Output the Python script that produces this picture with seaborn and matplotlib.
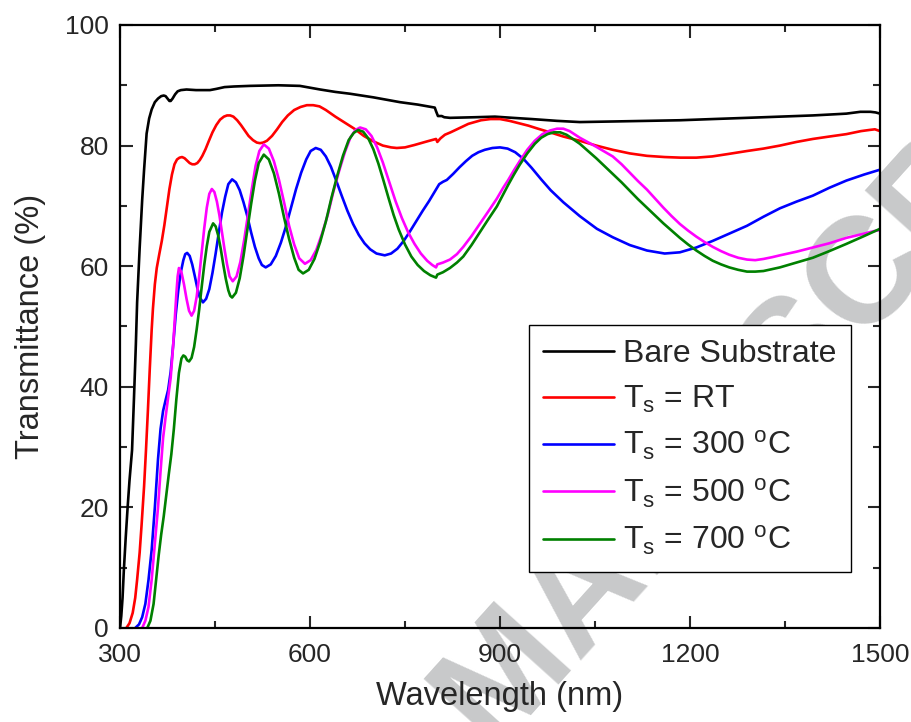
import numpy as np
import pandas as pd
import matplotlib
matplotlib.use("Agg")
import matplotlib.pyplot as plt
from matplotlib.ticker import MultipleLocator
import seaborn as sns

# ---- data (wavelength nm, transmittance %) ----
bare_nm = [300, 302, 304, 306, 309, 312, 315, 319, 322, 325, 327, 331, 335, 338, 342, 346, 350, 355, 360,
           365, 369, 372, 375, 378, 380, 383, 387, 391, 396, 405, 420, 442, 452, 465, 480, 505, 550, 584,
           600, 616, 640, 663, 700, 742, 770, 797, 799, 802, 808, 812, 821, 860, 892, 920, 950, 990, 1026,
           1080, 1132, 1184, 1236, 1290, 1342, 1394, 1430, 1447, 1469, 1485, 1493, 1500]
bare_T = [0, 2, 5, 9.5, 15, 20, 24.5, 29.5, 38, 47, 54, 63, 71, 76, 82, 84.5, 86, 87.2, 87.8,
          88.2, 88.3, 88.2, 87.8, 87.4, 87.4, 87.8, 88.5, 89.0, 89.2, 89.3, 89.2, 89.2, 89.4, 89.7, 89.8, 89.9, 90, 89.9,
          89.6, 89.3, 88.9, 88.6, 88, 87.2, 86.8, 86.3, 85.7, 84.9, 84.9, 84.7, 84.6, 84.7, 84.8, 84.6, 84.4, 84.1, 83.9,
          84.0, 84.1, 84.2, 84.4, 84.6, 84.8, 85.0, 85.2, 85.3, 85.6, 85.6, 85.5, 85.3]

rt_nm = [310, 315, 320, 324, 327, 331, 334, 338, 341, 344, 347, 350, 352, 355, 358, 362, 366, 370, 374,
         378, 382, 386, 390, 394, 398, 402, 406, 410, 414, 418, 422, 426, 430, 435, 440, 446, 452, 458,
         464, 469, 474, 479, 485, 491, 497, 503, 510, 516, 521, 526, 532, 540, 548, 556, 565, 575, 585,
         595, 605, 615, 625, 640, 655, 670, 685, 700, 715, 728, 737, 750, 765, 785, 799, 801, 806, 813,
         822, 830, 840, 850, 860, 870, 885, 900, 915, 930, 945, 960, 979, 1000, 1026, 1052, 1078, 1105,
         1132, 1160, 1185, 1210, 1235, 1260, 1290, 1316, 1342, 1368, 1394, 1420, 1447, 1470, 1484, 1492, 1500]
rt_T = [0, 0.8, 2.5, 5, 8, 12.5, 17, 23.5, 29.5, 36, 43, 49.5, 53, 57, 59.7, 62, 64.2, 66.8, 69.8,
        72.8, 75.2, 76.9, 77.7, 78.0, 78.1, 77.9, 77.5, 77.1, 76.9, 76.9, 77.1, 77.6, 78.3, 79.4, 80.7, 82.2, 83.4, 84.3,
        84.8, 85.0, 85.0, 84.8, 84.2, 83.4, 82.5, 81.6, 80.9, 80.5, 80.4, 80.5, 80.8, 81.6, 82.7, 83.9, 85.0, 85.9, 86.4,
        86.7, 86.7, 86.5, 85.9, 84.8, 83.8, 82.8, 81.6, 80.7, 80.0, 79.7, 79.6, 79.7, 80.1, 80.7, 81.1, 80.6, 81.2, 81.8,
        82.2, 82.6, 83.1, 83.6, 83.9, 84.2, 84.4, 84.4, 84.1, 83.7, 83.3, 82.8, 82.2, 81.5, 80.8, 80.0, 79.3, 78.7,
        78.3, 78.1, 78.0, 78.0, 78.2, 78.6, 79.1, 79.5, 80.0, 80.6, 81.1, 81.5, 81.9, 82.4, 82.6, 82.7, 82.4]

t300_nm = [324, 330, 335, 340, 345, 350, 355, 360, 364, 368, 372, 376, 380, 384, 388, 392, 396, 400, 403,
           406, 410, 414, 418, 422, 426, 431, 436, 441, 446, 451, 456, 461, 466, 471, 477, 483, 489, 495,
           501, 507, 513, 519, 524, 530, 538, 546, 554, 562, 570, 578, 586, 594, 601, 609, 617, 625, 633,
           641, 650, 659, 668, 677, 686, 695, 705, 718, 728, 738, 748, 758, 768, 778, 788, 796, 800, 804,
           810, 816, 826, 836, 846, 856, 866, 876, 888, 900, 912, 924, 937, 950, 965, 980, 1000, 1026,
           1053, 1078, 1105, 1132, 1160, 1184, 1210, 1236, 1262, 1290, 1316, 1342, 1368, 1394, 1420, 1447,
           1475, 1500]
t300_T = [0, 0.6, 1.8, 4, 8, 13, 20, 28, 33, 36, 37.8, 39.5, 42.5, 47, 52, 56, 59, 61, 62,
          62.2, 61.7, 60.3, 58.4, 56.4, 54.8, 54, 54.6, 56.2, 58.9, 62.1, 65.6, 68.9, 71.5, 73.6, 74.4, 73.9, 72.6, 70.6,
          68.3, 65.6, 63.2, 61.3, 60.2, 59.8, 60.3, 61.7, 63.9, 66.6, 69.7, 72.8, 75.5, 77.7, 79.1, 79.6, 79.3, 78.2, 76.5,
          74.3, 71.7, 69.2, 67, 65.2, 63.8, 62.8, 62.1, 61.8, 62.1, 62.9, 64.2, 65.8, 67.5, 69.2, 70.8, 72.2, 72.9, 73.6,
          74.0, 74.3, 75.3, 76.4, 77.4, 78.3, 78.9, 79.3, 79.6, 79.7, 79.5, 78.9, 77.8, 76.3, 74.4, 72.6, 70.6, 68.3,
          66.2, 64.8, 63.5, 62.6, 62.1, 62.3, 63.1, 64.2, 65.4, 66.7, 68.2, 69.6, 70.7, 71.7, 73, 74.2,
          75.2, 76]

t500_nm = [335, 340, 345, 350, 355, 360, 364, 368, 372, 376, 380, 384, 387, 389, 391, 393, 397, 401, 405,
           409, 413, 417, 421, 425, 429, 433, 437, 441, 445, 449, 453, 457, 461, 465, 469, 473, 478, 484,
           490, 496, 502, 508, 514, 520, 527, 535, 543, 551, 559, 567, 575, 583, 592, 601, 610, 619, 628,
           637, 646, 655, 664, 672, 679, 688, 697, 706, 715, 725, 735, 745, 755, 765, 775, 785, 793, 799,
           801, 810, 821, 832, 842, 855, 868, 881, 895, 905, 913, 922, 931, 943, 955, 967, 979, 990, 1000,
           1010, 1026, 1040, 1052, 1065, 1078, 1092, 1105, 1118, 1132, 1145, 1158, 1171, 1184, 1197, 1210,
           1223, 1236, 1249, 1262, 1276, 1290, 1303, 1316, 1330, 1342, 1368, 1394, 1420, 1447, 1475, 1490, 1500]
t500_T = [0, 1.2, 3.5, 8, 14, 20, 26, 31.5, 35, 38.3, 41.5, 47, 52, 55.5, 58.3, 59.7, 59.0, 57.0, 54.6,
          52.6, 51.8, 52.6, 54.9, 58.3, 62.3, 66.3, 69.7, 72.0, 72.8, 72.3, 70.7, 68.4, 65.6, 62.8, 60.3, 58.3, 57.5, 58.3,
          60.7, 64.3, 68.5, 72.7, 76.6, 79.1, 80.2, 79.5, 77.4, 74.3, 70.6, 66.7, 63.6, 61.3, 60.4, 61, 62.7, 65.4, 68.5,
          72.4, 75.8, 78.9, 81.4, 82.6, 83, 82.7, 81.6, 79.7, 77.2, 74, 70.8, 68, 65.6, 63.7, 62.1, 60.9, 60.2, 59.8,
          60.3, 60.6, 61.1, 62, 63.2, 65, 67, 69, 71.2, 73, 74.3, 75.9, 77.4, 79.3, 80.8, 81.9, 82.5, 82.8, 82.8,
          82.4, 81.3, 80.5, 79.8, 79.0, 78.2, 76.9, 75.5, 74.1, 72.7, 71.2, 69.7, 68.3, 67, 65.9, 64.9,
          64, 63.2, 62.5, 61.9, 61.4, 61.1, 61.0, 61.2, 61.5, 61.8, 62.4, 63.1, 63.8, 64.7, 65.4, 65.8, 66]

t700_nm = [343, 348, 353, 357, 361, 365, 369, 373, 377, 381, 385, 389, 393, 397, 400, 403, 406, 409, 413,
           417, 421, 425, 429, 433, 437, 441, 447, 451, 455, 459, 463, 467, 471, 474, 477, 483, 489, 495,
           501, 507, 513, 519, 527, 535, 543, 551, 559, 567, 575, 582, 589, 598, 607, 616, 625, 634, 643,
           652, 661, 669, 676, 684, 692, 700, 708, 716, 724, 732, 740, 750, 760, 770, 780, 790, 799, 801,
           810, 821, 832, 842, 855, 868, 881, 895, 904, 913, 922, 931, 943, 955, 965, 975, 985, 995, 1005,
           1015, 1026, 1039, 1052, 1065, 1078, 1092, 1105, 1118, 1132, 1145, 1158, 1171, 1184, 1197, 1210,
           1223, 1236, 1249, 1262, 1276, 1290, 1303, 1316, 1329, 1342, 1368, 1394, 1420, 1447, 1475, 1500]
t700_T = [0, 1.2, 4, 8, 12, 15.5, 18.5, 22, 25.5, 28.8, 33, 38, 42.3, 44.7, 45.2, 45, 44.4, 44.2, 44.8,
          46.6, 49.5, 52.8, 56.6, 60.2, 63.3, 65.7, 67.1, 66.6, 65.1, 62.9, 60.3, 57.9, 56, 55.1, 54.8, 55.6, 58, 61.7,
          66, 70.3, 74.2, 77.1, 78.5, 77.7, 75.4, 72, 68.1, 64.5, 61.4, 59.4, 58.8, 59.4, 61.2, 64, 67.4, 71.4, 75,
          78.3, 80.9, 82.1, 82.6, 82.3, 81.2, 79.4, 77, 74.2, 71.3, 68.5, 66.1, 63.6, 61.6, 60.2, 59.2, 58.5, 58.1, 58.6,
          59, 59.7, 60.6, 61.6, 63.5, 65.6, 67.7, 69.9, 71.7, 73.5, 75.2, 76.8, 78.7, 80.3, 81.3, 81.9, 82.2, 82.2, 81.8,
          81.1, 80.3, 79.1, 77.9, 76.6, 75.3, 73.9, 72.5, 71.1, 69.7, 68.4, 67.1, 65.9, 64.7, 63.6, 62.6,
          61.7, 60.9, 60.3, 59.8, 59.4, 59.1, 59.1, 59.2, 59.5, 59.8, 60.6, 61.4, 62.5, 63.7, 65, 66.2]

labels = ["Bare Substrate", "T$_s$ = RT", "T$_s$ = 300 $^o$C", "T$_s$ = 500 $^o$C", "T$_s$ = 700 $^o$C"]
colors = ["black", "#ff0000", "#0000ff", "#ff00ff", "#008000"]

series = [(bare_nm, bare_T), (rt_nm, rt_T), (t300_nm, t300_T), (t500_nm, t500_T), (t700_nm, t700_T)]
df = pd.concat([pd.DataFrame({"nm": x, "T": y, "sample": lab})
                for (x, y), lab in zip(series, labels)], ignore_index=True)

sns.set_style("ticks")
plt.rcParams['font.family'] = ['Liberation Sans', 'DejaVu Sans']
plt.rcParams['mathtext.default'] = 'regular'

fig = plt.figure(figsize=(9.12, 7.22), dpi=100)
ax = fig.add_axes([0.1316, 0.1302, 0.8333, 0.8352])
ax.set_facecolor("none")

# watermark behind everything
fig.text(0.56, 0.058, "ACCEPTED MANUSCRIPT", fontsize=108, fontweight="bold",
         color="#c8c9ca", rotation=48, ha="center", va="center",
         rotation_mode="anchor", zorder=-5)

for lab, col in zip(labels, colors):
    sns.lineplot(data=df[df["sample"] == lab], x="nm", y="T", color=col, lw=1.9,
                 label=lab, estimator=None, sort=True, ax=ax)

ax.set_xlim(300, 1500)
ax.set_ylim(0, 100)
ax.xaxis.set_major_locator(MultipleLocator(300))
ax.xaxis.set_minor_locator(MultipleLocator(150))
ax.yaxis.set_major_locator(MultipleLocator(20))
ax.yaxis.set_minor_locator(MultipleLocator(10))
ax.tick_params(which="both", direction="in", top=True, right=True, width=1.5, labelsize=19)
ax.tick_params(which="major", length=9)
ax.tick_params(axis="x", which="major", pad=11)
ax.tick_params(axis="y", which="major", pad=8)
ax.tick_params(which="minor", length=5)
for sp in ax.spines.values():
    sp.set_linewidth(1.6)
    sp.set_color("black")

ax.set_xlabel("Wavelength (nm)", fontsize=23.5, labelpad=10)
ax.set_ylabel("Transmittance (%)", fontsize=23.5, labelpad=14)

leg = ax.legend(loc="upper left", bbox_to_anchor=(0.538, 0.5025), borderaxespad=0,
                fontsize=23, frameon=True, fancybox=False, framealpha=1,
                edgecolor="black", handlelength=2.2, handletextpad=0.31,
                labelspacing=0.45, borderpad=0.45)
leg.get_frame().set_linewidth(1.0)

fig.savefig("out.png", dpi=100)
